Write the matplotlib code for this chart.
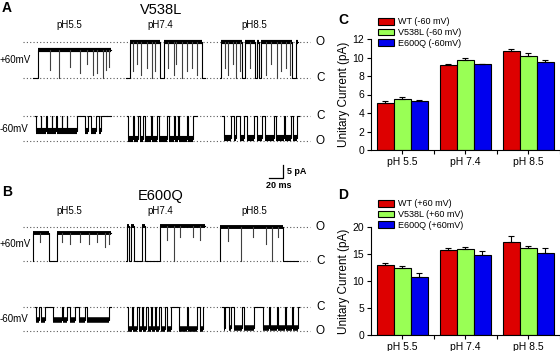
import matplotlib
matplotlib.use("Agg")
import matplotlib.pyplot as plt
import numpy as np

plt.rcParams['font.family'] = ['Liberation Sans', 'DejaVu Sans']

# ---------------- bar chart data ----------------
ph_labels = ["pH 5.5", "pH 7.4", "pH 8.5"]
c_labels = ["WT (-60 mV)", "V538L (-60 mV)", "E600Q (-60mV)"]
d_labels = ["WT (+60 mV)", "V538L (+60 mV)", "E600Q (+60mV)"]
c_wt = [5.1, 9.15, 10.75]
c_wt_err = [0.25, 0.15, 0.15]
c_v538l = [5.5, 9.7, 10.2]
c_v538l_err = [0.18, 0.25, 0.3]
c_e600q = [5.3, 9.25, 9.55]
c_e600q_err = [0.08, 0.08, 0.18]
d_wt = [12.9, 15.7, 17.2]
d_wt_err = [0.4, 0.3, 1.0]
d_v538l = [12.3, 15.9, 16.0]
d_v538l_err = [0.4, 0.3, 0.5]
d_e600q = [10.7, 14.8, 15.1]
d_e600q_err = [0.75, 0.75, 1.0]

bar_colors = ['#DD0000', '#99FF55', '#0000EE']

# ---------------- single-channel trace data (ms, pA) ----------------
# open intervals (start, end) in ms from sweep start; sweep length in ms
ph_trace_labels = ["pH5.5", "pH7.4", "pH8.5"]
sweep_len = {
    "A+": [111, 113, 112], "A-": [108, 100, 109.5],
    "B+": [111, 113, 112], "B-": [108, 109.5, 109.5]}
amp = {
    "A+": [10.8, 13.8, 13.8], "A-": [-5.8, -8.8, -8.5],
    "B+": [10.8, 13.5, 13.1], "B-": [-5.0, -8.5, -8.1]}
level_O = {"A+": 13.8, "A-": -9.4, "B+": 13.2, "B-": -9.1}

A_pos_opens = [
    [(6.7, 111)],
    [(6, 49), (54, 109)],
    [(2.4, 32.4), (36.2, 50), (53.3, 56.2), (59, 103.8), (108.6, 112)]]
A_pos_flick = [
    [24, 38, 53, 67, 77, 86, 92, 100, 105, 108],
    [10, 16, 22, 30, 37, 41, 60, 68, 72, 80, 87, 94, 101],
    [7.1, 11.9, 19, 23.8, 28.6, 42.9, 66.7, 73.8, 81, 88, 95, 100]]
A_pos_depth = [
    [0.7, 1.0, 0.6, 0.8, 0.5, 0.9, 0.8, 1.0, 0.7, 0.6],
    [0.8, 0.6, 0.9, 0.7, 1.0, 0.8, 0.7, 0.9, 0.6, 1.0, 0.8, 0.7, 0.9],
    [0.7, 0.9, 0.6, 1.0, 0.8, 0.7, 0.9, 0.6, 1.0, 0.8, 0.7, 0.9]]

A_neg_opens = [
    [(1.4, 8.1), (9, 15.7), (16.7, 23.8), (24.8, 30), (31, 38.1), (39, 45.2),
     (46.2, 60.5), (71.4, 76.2), (80, 87.1), (91, 93.8)],
    [(2.4, 8.6), (10.5, 16.7), (19, 23.8), (25.7, 34.3), (36.2, 42.9), (46.7, 57.1),
     (60.5, 67.6), (69.5, 73.8), (75.2, 85.7), (88.1, 95.2)],
    [(3.3, 12.9), (16.7, 20.5), (26.2, 31.9), (35.7, 45.2), (50, 57.1), (61.9, 73.8),
     (77.6, 88.1), (90.5, 98.6), (101.4, 107.1)]]

B_pos_opens = [
    [(0, 22.4), (34.3, 111)],
    [(1, 4.8), (7.6, 11.4), (22.4, 27.6), (48.6, 113)],
    [(0, 90.5)]]
B_pos_flick = [
    [10.5, 41.4, 53.3, 67.6, 79.5, 91.4, 103.3, 108.1],
    [58.1, 69, 77.1, 96.2, 105.7],
    [11.9, 31, 47.6, 66.7, 74.8, 83.3]]
B_pos_depth = [
    [0.3, 0.3, 0.4, 0.3, 0.4, 0.3, 0.5, 0.4],
    [0.4, 1.0, 0.3, 0.3, 0.4],
    [0.4, 1.0, 0.3, 0.5, 1.0, 0.3]]

B_neg_opens = [
    [(1, 6.2), (8.1, 14.3), (26.2, 38.1), (39.5, 45.2), (50, 57.1), (63.3, 71.4),
     (73.8, 106.2)],
    [(2.4, 7.1), (9.5, 15.2), (17.1, 21.4), (23.8, 27.6), (30, 34.3), (36.2, 40),
     (41.9, 46.7), (49.5, 54.3), (57.1, 62.9), (75.2, 85.7), (88.1, 100), (104.8, 108.6)],
    [(2.9, 4.8), (10, 12.4), (17.6, 29), (31.9, 46.2), (58.6, 66.7), (68.1, 78.6),
     (80.5, 90.5), (91.9, 100), (101.9, 108.1)]]

# ---------------- figure ----------------
fig = plt.figure(figsize=(5.6, 3.51), dpi=100)
W, H = 560.0, 351.0

# trace axes: x in ms (0.7 px/ms), y in pA (2.6 px/pA)
PX_MS, PX_PA = 0.7, 2.6
tax = fig.add_axes([0, 0, 335 / W, 1])
tax.set_xlim(0, 335 / PX_MS)
tax.set_ylim(0, H / PX_PA)
tax.axis('off')

def ypa(ypx):
    return (H - ypx) / PX_PA

row_base = {"A+": ypa(78.3), "A-": ypa(116.3), "B+": ypa(261.3), "B-": ypa(307)}
sweep_start = {"A+": [47, 180, 314], "A-": [50, 181, 317],
               "B+": [47, 180, 314], "B-": [50, 181, 317]}
band_lw = {"A+": 3.0, "A-": 4.4, "B+": 2.8, "B-": 4.0}

def draw_trace(key, i, opens, flick=None, depth=None):
    t0 = sweep_start[key][i]
    base = row_base[key]
    a_ = amp[key][i]
    L = sweep_len[key][i]
    xs, ys = [t0], [base]
    for a, b in opens:
        xs += [t0 + a, t0 + a]
        ys += [base, base + a_]
        if b < L:
            xs += [t0 + b, t0 + b]
            ys += [base + a_, base]
        else:
            xs += [t0 + b]
            ys += [base + a_]
    if opens[-1][1] < L:
        xs.append(t0 + L)
        ys.append(base)
    tax.plot(xs, ys, color='k', lw=0.8)
    for a, b in opens:
        tax.plot([t0 + a, t0 + b], [base + a_, base + a_], color='k',
                 lw=band_lw[key], solid_capstyle='butt')
    if flick:
        for t, d in zip(flick, depth):
            tax.plot([t0 + t, t0 + t], [base + a_, base + a_ * (1 - d)],
                     color='0.25', lw=0.8)

for i in range(3):
    draw_trace("A+", i, A_pos_opens[i], A_pos_flick[i], A_pos_depth[i])
    draw_trace("A-", i, A_neg_opens[i])
    draw_trace("B+", i, B_pos_opens[i], B_pos_flick[i], B_pos_depth[i])
    draw_trace("B-", i, B_neg_opens[i])

x_dot0, x_dot1 = 23 / PX_MS, 310 / PX_MS
for key in ["A+", "A-", "B+", "B-"]:
    b = row_base[key]
    o = b + level_O[key]
    for yy in (b, o):
        tax.plot([x_dot0, x_dot1], [yy, yy], color='0.35', lw=0.8,
                 linestyle=(0, (1, 2)), zorder=0)
    tax.text(316 / PX_MS, b, "C", fontsize=8.5, va='center', ha='left')
    tax.text(316 / PX_MS, o, "O", fontsize=8.5, va='center', ha='left')
    lab = "+60mV" if key.endswith("+") else "-60mV"
    tax.text(0, (b + o) / 2, lab, fontsize=7, va='center', ha='left')

for yrow in (25.5, 211):
    for xc, lab in zip([69, 160, 254], ph_trace_labels):
        tax.text(xc / PX_MS, ypa(yrow), lab, fontsize=7, ha='center', va='center')

tax.text(161 / PX_MS, ypa(10), "V538L", fontsize=10.5, ha='center', va='center')
tax.text(161 / PX_MS, ypa(196), "E600Q", fontsize=10.5, ha='center', va='center')
tax.text(2 / PX_MS, ypa(8), "A", fontsize=10, fontweight='bold', ha='left', va='center')
tax.text(2 / PX_MS, ypa(192), "B", fontsize=10, fontweight='bold', ha='left', va='center')

# scale bar: 20 ms, 5 pA
sb_x1 = 283 / PX_MS
sb_y0 = ypa(178)
tax.plot([sb_x1 - 20, sb_x1, sb_x1], [sb_y0, sb_y0, sb_y0 + 5], color='k', lw=0.9)
tax.text(sb_x1 + 4 / PX_MS, sb_y0 + 2.5, "5 pA", fontsize=6.5, fontweight='bold',
         ha='left', va='center')
tax.text(sb_x1 - 10 + 4, ypa(186), "20 ms", fontsize=6.5, fontweight='bold',
         ha='center', va='center')

# ---------------- bar charts ----------------
def bar_panel(rect, ymax, yticks, series, errs, labels, leg_y, letter, letter_y):
    ax = fig.add_axes(rect)
    x = np.arange(1, 4)
    w = 0.27
    for k, (vals, err, col, lab) in enumerate(zip(series, errs, bar_colors, labels)):
        ax.bar(x + (k - 1) * w, vals, width=w, color=col, edgecolor='k',
               linewidth=0.8, label=lab,
               yerr=[np.zeros(3), err], error_kw=dict(ecolor='k', elinewidth=0.8,
                                                       capsize=2.2, capthick=0.8))
    ax.set_xlim(0.5, 3.5)
    ax.set_ylim(0, ymax)
    ax.set_yticks(yticks)
    ax.set_xticks(x)
    ax.set_xticklabels(ph_labels, fontsize=7.5)
    ax.set_xticks([1.5, 2.5, 3.5], minor=True)
    ax.tick_params(axis='x', which='minor', length=3, width=0.8)
    ax.tick_params(axis='both', which='major', length=3, width=0.8, labelsize=7.5,
                   pad=2)
    for s in ['top', 'right']:
        ax.spines[s].set_visible(False)
    for s in ['left', 'bottom']:
        ax.spines[s].set_linewidth(0.8)
    ax.set_ylabel("Unitary Current (pA)", fontsize=8.5, labelpad=2)
    ax.legend(loc='upper left', bbox_to_anchor=(378 / W, 1 - leg_y / H),
              bbox_transform=fig.transFigure, frameon=False, fontsize=6.5,
              handlelength=1.8, handleheight=0.8, labelspacing=0.18,
              handletextpad=0.4, borderpad=0, borderaxespad=0)
    fig.text(343 / W, 1 - letter_y / H, letter, fontsize=10, fontweight='bold',
             ha='center', va='center')
    return ax

bar_panel([371 / W, (H - 150) / H, 188.5 / W, 111 / H], 12, range(0, 13, 2),
          [c_wt, c_v538l, c_e600q], [c_wt_err, c_v538l_err, c_e600q_err],
          c_labels, 17.5, "C", 20)
bar_panel([371 / W, (H - 335) / H, 188.5 / W, 108.3 / H], 20, range(0, 21, 5),
          [d_wt, d_v538l, d_e600q], [d_wt_err, d_v538l_err, d_e600q_err],
          d_labels, 199.5, "D", 195)

fig.savefig("out.png", dpi=100)
